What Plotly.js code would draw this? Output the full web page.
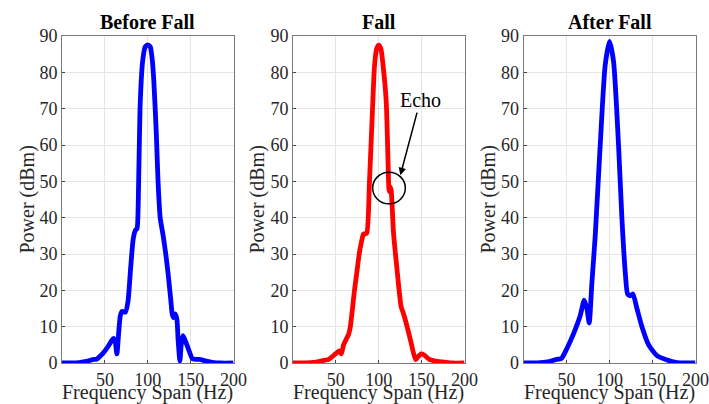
<!DOCTYPE html>
<html>
<head>
<meta charset="utf-8">
<script src="https://cdn.plot.ly/plotly-3.0.1.min.js"></script>
<style>html,body{margin:0;padding:0;background:#fff;}#chart{width:709px;height:404px;}</style>
</head>
<body>
<div id="chart"></div>
<script>
// ---- Data ----
const panelTitles = ["Before Fall", "Fall", "After Fall"];
const xTickVals = [50, 100, 150, 200];
const yTickVals = [0, 10, 20, 30, 40, 50, 60, 70, 80, 90];
const xLabel = "Frequency Span (Hz)";
const yLabel = "Power (dBm)";
const echoLabel = "Echo";

const beforeX = [0,10,20,30,37,40,45,50,55,58,60,62,64,66,68,70,74,77,80,83,85.5,87.5,89,91,94,97,99,101,103,105,107,110,112,114.5,118,121,124,127,128.5,130,132,134,135.5,137.5,139,141,144,148,152,156,160,164,168,175,185,200];
const beforeY = [0,0,0.1,0.5,1,1,2,3.3,5,6.2,6.8,6,2.5,8,13,14.2,14,17,26,34,36.5,37,45,70,83,87,87.5,87.5,87,84,78,63,50,40,35,30,24,17,13.5,12.5,13.5,12,6,0.5,5,7.5,6,3.5,1.2,1,1,0.8,0.5,0.2,0,0];

const fallX = [0,10,20,30,36,41.6,45,49.4,52,54,56.4,59,62,65,66.9,71.7,74.5,77.2,80,82.2,84,86.1,89.2,93.1,95,97.5,100,102.5,105,108.7,111,111.8,112.5,113.3,114.5,117.2,121,126.1,129,132,137.8,142.9,145,149.5,153,159,165,174,185,200];
const fallY = [0,0,0.1,0.4,0.7,1,1.6,2.5,3,3.3,2.5,5,6.5,8,10,20,25,30,33.5,35.5,35.5,35.8,50,72,81.6,86.5,87.5,86.5,82,72,54,48,47.2,48.5,47.5,35.8,26.5,15.5,13.5,11,5.5,0.9,1.5,2.5,2.2,1,0.6,0.3,0,0];

const afterX = [0,10,20,30,38.8,42,44.6,50.5,58.1,65.9,70.6,73.7,76.4,79.5,83.4,89.2,95,100,104.7,110.5,114.4,118.3,121,124,127.2,131.9,137.7,145.5,155.2,166.8,178.4,190,200];
const afterY = [0,0,0.1,0.4,1,1.1,1.4,4,8,13,17.3,15,11,22,35,60,82,88.5,83,60,40,25,19,18.5,19,15,10,5,2,0.8,0.1,0,0];

// echo marker (data coords of panel 2)
const echoCircle = {x0: 92.9, x1: 131.0, y0: 43.8, y1: 52.5};
const echoArrowHead = {x: 125.2, y: 51.7};

// ---- Layout ----
const W = 709, H = 404, mT = 36, mB = 41;
const plotH = H - mT - mB;
const domainsPx = [[62, 233.5], [293, 464.5], [523.5, 695.5]];
const domains = domainsPx.map(d => [d[0] / W, d[1] / W]);
const serif = "'Liberation Serif', 'Times New Roman', serif";
const textColor = "#262626";

const series = [[beforeX, beforeY, "#0000ff"], [fallX, fallY, "#ff0000"], [afterX, afterY, "#0000ff"]];
const traces = series.map((s, i) => ({
  x: s[0], y: s[1], type: "scatter", mode: "lines",
  line: {color: s[2], width: 4.8, shape: "spline", smoothing: 0.6},
  xaxis: i === 0 ? "x" : "x" + (i + 1),
  yaxis: i === 0 ? "y" : "y" + (i + 1),
  hoverinfo: "skip", showlegend: false
}));

const layout = {
  width: W, height: H,
  margin: {l: 0, r: 0, t: mT, b: mB, pad: 0},
  paper_bgcolor: "#ffffff", plot_bgcolor: "#ffffff",
  showlegend: false,
  font: {family: serif, size: 18, color: textColor},
  annotations: [], shapes: []
};

for (let i = 0; i < 3; i++) {
  const sx = i === 0 ? "" : String(i + 1);
  layout["xaxis" + sx] = {
    domain: domains[i], range: [0, 200], anchor: "y" + sx,
    tickvals: xTickVals, ticktext: xTickVals.map(String),
    showgrid: true, gridcolor: "#e5e5e5", gridwidth: 1,
    showline: true, linecolor: "#7a7a7a", linewidth: 1, mirror: true,
    ticks: "inside", ticklen: 3, tickcolor: "#444",
    zeroline: false, tickfont: {family: serif, size: 18, color: textColor}
  };
  layout["yaxis" + sx] = {
    domain: [0, 1], range: [0, 90], anchor: "x" + sx,
    tickvals: yTickVals, ticktext: yTickVals.map(String),
    showgrid: true, gridcolor: "#e5e5e5", gridwidth: 1,
    showline: true, linecolor: "#7a7a7a", linewidth: 1, mirror: true,
    ticks: "inside", ticklen: 3, tickcolor: "#444",
    zeroline: false, tickfont: {family: serif, size: 18, color: textColor}
  };
  const cx = (domains[i][0] + domains[i][1]) / 2;
  layout.annotations.push({
    text: "<b>" + panelTitles[i] + "</b>", xref: "paper", yref: "paper",
    x: cx, y: 1, xanchor: "center", yanchor: "bottom", yshift: 1,
    showarrow: false, font: {family: serif, size: 20, color: "#000"}
  });
  layout.annotations.push({
    text: xLabel, xref: "paper", yref: "paper",
    x: cx, y: -(393 - (H - mB)) / plotH, xanchor: "center", yanchor: "middle",
    showarrow: false, font: {family: serif, size: 20, color: textColor}
  });
  const ylx = [27, 257, 488][i];
  layout.annotations.push({
    text: yLabel, xref: "paper", yref: "paper", textangle: -90,
    x: ylx / W, y: 0.5, xanchor: "center", yanchor: "middle",
    showarrow: false, font: {family: serif, size: 20, color: textColor}
  });
}

layout.shapes.push({
  type: "circle", xref: "x2", yref: "y2",
  x0: echoCircle.x0, x1: echoCircle.x1, y0: echoCircle.y0, y1: echoCircle.y1,
  line: {color: "#000", width: 1.5}
});
layout.annotations.push({
  text: echoLabel, xref: "x2", yref: "y2",
  x: echoArrowHead.x, y: echoArrowHead.y, ax: 20, ay: -75,
  showarrow: true, arrowhead: 2, arrowsize: 1, arrowwidth: 1.5, arrowcolor: "#000",
  font: {family: serif, size: 20, color: "#000"}
});

Plotly.newPlot("chart", traces, layout, {staticPlot: true, displayModeBar: false});
</script>
</body>
</html>
